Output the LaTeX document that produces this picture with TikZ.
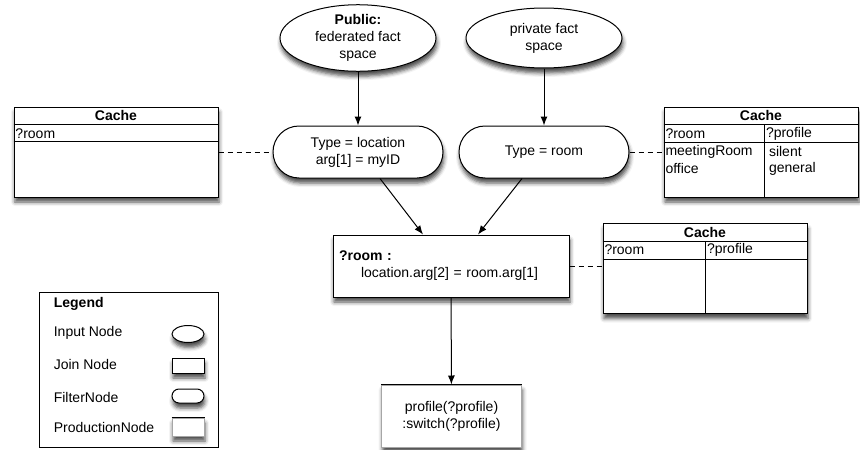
\documentclass[tikz,border=0pt]{standalone}
\usepackage{fontspec}
\setmainfont{Liberation Sans}
\usetikzlibrary{
  arrows.meta,
  calc,
  positioning,
  shapes.geometric,
  shadows.blur,
}
\tikzset{
  >={Latex[length=9pt,width=7pt]},
  every node/.style={font=\fontsize{14}{17}\selectfont},
  rete/.style={draw,line width=1pt,fill=white,
    blur shadow={shadow xshift=1pt,shadow yshift=-5pt,shadow blur radius=4pt,shadow opacity=70}},
  inputnode/.style={rete,ellipse,minimum width=156,minimum height=60,inner sep=0,align=center},
  filternode/.style={rete,rectangle,rounded corners=26,minimum width=170,minimum height=52,align=center},
  joinnode/.style={rete,rectangle,minimum width=236,minimum height=62},
  prodnode/.style={rete,draw=black!35,rectangle,minimum width=140,minimum height=62,align=center},
  cachebox/.style={rete,rectangle,minimum width=204,minimum height=90},
  cachelink/.style={line width=1pt,dash pattern=on 5pt off 4pt},
  celltext/.style={anchor=west,inner sep=1.5pt},
}

\begin{document}
\begin{tikzpicture}[x=1pt,y=-1pt,line width=1pt]

        \useasboundingbox (0,0) rectangle (860,450);

        % input nodes
        \node[inputnode] (pub)  at (358,38) {\textbf{Public:}\\federated fact\\space};
        \node[inputnode] (priv) at (544,38) {private fact\\space};

        % filter nodes
        \node[filternode] (floc)  at (358,152) {Type = location\\arg[1] = myID};
        \node[filternode] (froom) at (544,152) {Type = room};

        % join and production
        \node[joinnode,text width=224,inner sep=6,align=left] (join) at (451,266)
          {\textbf{?room :}\\\hspace*{22pt}location.arg[2] = room.arg[1]};
        \node[prodnode] (prod) at (451.5,416) {profile(?profile)\\:switch(?profile)};
        \draw (prod.north west) -- (prod.north east);

        % caches
        \node[cachebox] (cacheL) at (116,152) {};
        \draw ([yshift=-18pt]cacheL.north west) -- ([yshift=-18pt]cacheL.north east);
        \draw ([yshift=-35pt]cacheL.north west) -- ([yshift=-35pt]cacheL.north east);
        \node at ([yshift=-9pt]cacheL.north) {\textbf{Cache}};
        \node[celltext] at ([yshift=-27pt]cacheL.north west) {?room};

        \node[cachebox,minimum width=194] (cacheR) at (761,152) {};
        \draw ([yshift=-18pt]cacheR.north west) -- ([yshift=-18pt]cacheR.north east);
        \draw ([yshift=-36pt]cacheR.north west) -- ([yshift=-36pt]cacheR.north east);
        \draw ([yshift=-18pt,xshift=3pt]cacheR.north) -- ([xshift=3pt]cacheR.south);
        \node at ([yshift=-9pt]cacheR.north) {\textbf{Cache}};
        \node[celltext] at ([yshift=-27pt]cacheR.north west) {?room};
        \node[celltext] at ([yshift=-27pt,xshift=3pt]cacheR.north) {?profile};
        \node[celltext] at ([yshift=-45pt]cacheR.north west) {meetingRoom};
        \node[celltext] at ([yshift=-62pt]cacheR.north west) {office};
        \node[celltext] at ([yshift=-45pt,xshift=6pt]cacheR.north) {silent};
        \node[celltext] at ([yshift=-62pt,xshift=6pt]cacheR.north) {general};

        \node[cachebox] (cacheM) at (705,268.5) {};
        \draw ([yshift=-18pt]cacheM.north west) -- ([yshift=-18pt]cacheM.north east);
        \draw ([yshift=-36pt]cacheM.north west) -- ([yshift=-36pt]cacheM.north east);
        \draw ([yshift=-18pt]cacheM.north) -- (cacheM.south);
        \node at ([yshift=-9pt]cacheM.north) {\textbf{Cache}};
        \node[celltext] at ([yshift=-27pt]cacheM.north west) {?room};
        \node[celltext] at ([yshift=-27pt]cacheM.north) {?profile};

        % connectors
        \draw[->] (pub) -- (floc);
        \draw[->] (priv) -- (froom);
        \draw[->] ([xshift=22pt]floc.south) -- ([xshift=-28pt]join.north);
        \draw[->] ([xshift=-22pt]froom.south) -- ([xshift=27pt]join.north);
        \draw[->] (join) -- (prod);

        \draw[cachelink] (cacheL) -- (floc);
        \draw[cachelink] (froom) -- (cacheR);
        \draw[cachelink] (join.east) -- (join.east -| cacheM.west);

        % legend
        \node[draw,minimum width=179,minimum height=155] (legend) at (128.5,370) {};
        \node[anchor=west] (lgtitle) at (50,304) {\textbf{Legend}};
        \node[anchor=west] (lgin)    at (50,333) {Input Node};
        \node[anchor=west] (lgjoin)  at (50,364) {Join Node};
        \node[anchor=west] (lgfilt)  at (50,397) {FilterNode};
        \node[anchor=west] (lgprod)  at (50,427) {ProductionNode};
        \node[inputnode,minimum width=32,minimum height=17] (symin) at (188,334) {};
        \node[joinnode,minimum width=32,minimum height=15] (symjoin) at (188,365.5) {};
        \node[filternode,rounded corners=7,minimum width=32,minimum height=14] (symfilt) at (188,396) {};
        \node[prodnode,minimum width=32,minimum height=18] (symprod) at (188,427) {};
        \draw (symprod.north west) -- (symprod.north east);

      \end{tikzpicture}
\end{document}
